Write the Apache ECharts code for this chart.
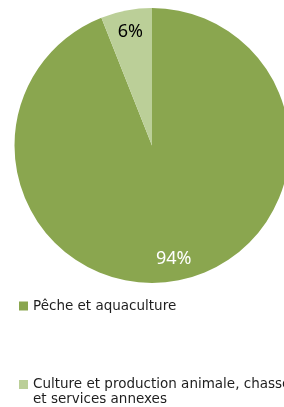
<!DOCTYPE html>
<html>
<head>
<meta charset="utf-8">
<script src="https://cdn.jsdelivr.net/npm/echarts@6/dist/echarts.min.js"></script>
<style>
html,body{margin:0;padding:0;background:#fff;}
#c{width:284px;height:407px;}
</style>
</head>
<body>
<div id="c"></div>
<script>
var categories = ["Pêche et aquaculture", "Culture et production animale, chasse et services annexes"];
var values = [94, 6];
var labels = ["94%", "6%"];
var colors = ["#8AA64F", "#BBCF98"];
var labelColors = ["#ffffff", "#000000"];

var chart = echarts.init(document.getElementById('c'));
var R = 137.5;
var center = [152, 145.5];
var legendFont = { fontFamily: 'DejaVu Sans', fontSize: 13.5, color: '#1e1e1e' };

chart.setOption({
  animation: false,
  color: colors,
  legend: [{
    data: [categories[0]],
    left: 19, top: 299, padding: 0,
    orient: 'vertical',
    itemWidth: 9, itemHeight: 9, itemGap: 0,
    icon: 'rect',
    textStyle: legendFont
  }, {
    data: [categories[1]],
    left: 19, top: 377.5, padding: 0,
    orient: 'vertical',
    itemWidth: 9, itemHeight: 9, itemGap: 0,
    icon: 'rect',
    formatter: function () { return "Culture et production animale, chasse"; },
    textStyle: legendFont
  }],
  graphic: [{
    type: 'text', left: 33, top: 392,
    style: { text: "et services annexes", font: '13.5px "DejaVu Sans"', fill: '#1e1e1e' }
  }],
  series: [{
    type: 'pie',
    center: center,
    radius: [0, R],
    startAngle: 90,
    clockwise: true,
    silent: true,
    label: { show: false },
    labelLine: { show: false },
    data: categories.map(function (n, i) { return { name: n, value: values[i] }; })
  }, {
    type: 'pie',
    center: center,
    radius: [88, R],
    startAngle: 90,
    clockwise: true,
    silent: true,
    legendHoverLink: false,
    itemStyle: { color: 'rgba(0,0,0,0)' },
    label: { show: true, position: 'inside', fontFamily: 'Noto Sans', fontSize: 18 },
    labelLine: { show: false },
    data: categories.map(function (n, i) {
      return { name: n + ' ', value: values[i], label: { formatter: labels[i], color: labelColors[i] } };
    })
  }]
});
</script>
</body>
</html>
